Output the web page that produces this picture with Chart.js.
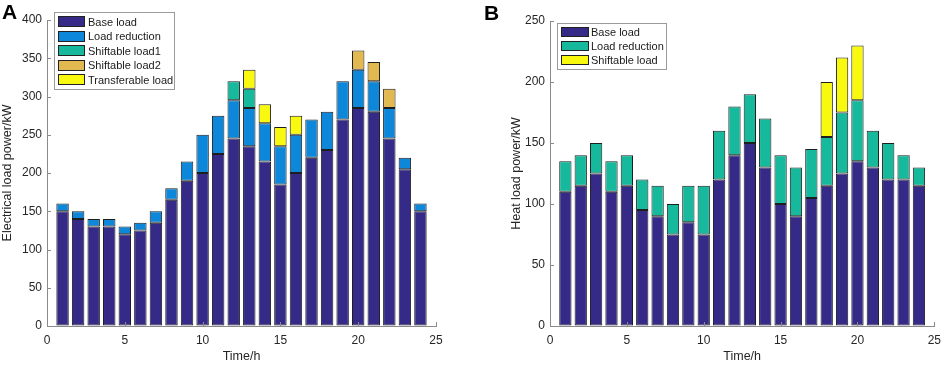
<!DOCTYPE html>
<html>
<head>
<meta charset="utf-8">
<script src="https://cdn.jsdelivr.net/npm/chart.js@4.4.1/dist/chart.umd.min.js"></script>
<style>
  html, body { margin: 0; padding: 0; background: #ffffff; }
  #wrap { position: relative; width: 948px; height: 365px; overflow: hidden; font-family: "Liberation Sans", Arial, sans-serif; }
  .panel { position: absolute; top: 0; width: 474px; height: 365px; }
  .letter { position: absolute; font-weight: bold; font-size: 21px; line-height: 21px; color: #000; }
  .legend { position: absolute; background: #fff; border: 1px solid #9a9a9a; box-sizing: border-box; }
  .lrow { position: absolute; left: 3px; height: 12px; white-space: nowrap; font-size: 11px; line-height: 12px; color: #1a1a1a; }
  .sw { position: absolute; left: 0; top: 0; box-sizing: border-box; border: 1px solid #222; }
  .lt { position: absolute; top: 0; }
</style>
</head>
<body>
<div id="wrap">
  <div class="panel" style="left:0"><canvas id="cA" width="474" height="365"></canvas></div>
  <div class="panel" style="left:474px"><canvas id="cB" width="474" height="365"></canvas></div>
  <div class="letter" style="left:2px;top:1px">A</div>
  <div class="letter" style="left:484px;top:2px">B</div>
  <div id="legA" class="legend" style="left:54px;top:12px;width:121px;height:78px"></div>
  <div id="legB" class="legend" style="left:557px;top:23px;width:110px;height:47px"></div>
</div>
<script>
// ---- data ----
const hours = [1,2,3,4,5,6,7,8,9,10,11,12,13,14,15,16,17,18,19,20,21,22,23,24];

// Panel A: electrical load (kW)
const elecNames = ["Base load", "Load reduction", "Shiftable load1", "Shiftable load2", "Transferable load"];
const elecBase = [150,140,130,130,120,125,135,165,190,200,225,245,235,215,185,200,220,230,270,285,280,245,205,150];
const elecReduction = [10,10,10,10,10,10,15,15,25,50,50,50,50,50,50,50,50,50,50,50,40,40,15,10];
const elecShift1 = [null,null,null,null,null,null,null,null,null,null,null,25,25,null,null,null,null,null,null,null,null,null,null,null];
const elecShift2 = [null,null,null,null,null,null,null,null,null,null,null,null,null,null,null,null,null,null,null,25,25,25,null,null];
const elecTransfer = [null,null,null,null,null,null,null,null,null,null,null,null,25,25,25,25,null,null,null,null,null,null,null,null];
const elecYTicks = [0,50,100,150,200,250,300,350,400];

// Panel B: heat load (kW)
const heatNames = ["Base load", "Load reduction", "Shiftable load"];
const heatBase = [110,115,125,110,115,95,90,75,85,75,120,140,150,130,100,90,105,115,125,135,130,120,120,115];
const heatReduction = [25,25,25,25,25,25,25,25,30,40,40,40,40,40,40,40,40,40,50,50,30,30,20,15];
const heatShift = [null,null,null,null,null,null,null,null,null,null,null,null,null,null,null,null,null,45,45,45,null,null,null,null];
const heatYTicks = [0,50,100,150,200,250];

const xTicks = [0,5,10,15,20,25];

// ---- styles ----
const C_BASE = "#352a87", C_BLUE = "#0d87da", C_TEAL = "#17b99c", C_ORANGE = "#e2b850", C_YELLOW = "#f8f90e";
const elecColors = [C_BASE, C_BLUE, C_TEAL, C_ORANGE, C_YELLOW];
const heatColors = [C_BASE, C_TEAL, C_YELLOW];
const FONT = "'Liberation Sans', Arial, sans-serif";
const TXT = "#262626";
const AXC = "#8a8a8a";

function mkDatasets(names, series, colors) {
  return names.map((n, i) => ({
    label: n,
    data: series[i],
    backgroundColor: colors[i],
    borderColor: "#1e1e1e",
    borderWidth: 1,
    borderSkipped: false,
    barPercentage: 0.8,
    categoryPercentage: 1.0
  }));
}

const inwardTicks = {
  id: "inwardTicks",
  afterDraw(chart) {
    const ctx = chart.ctx, x = chart.scales.x, y = chart.scales.y;
    const a = chart.chartArea;
    ctx.save();
    ctx.strokeStyle = AXC;
    ctx.lineWidth = 1;
    ctx.beginPath();
    y.ticks.forEach(t => { const p = Math.round(y.getPixelForValue(t.value)) + 0.5; ctx.moveTo(a.left, p); ctx.lineTo(a.left + 4, p); });
    x.ticks.forEach(t => { const p = Math.round(x.getPixelForValue(t.value)) + 0.5; ctx.moveTo(p, a.bottom); ctx.lineTo(p, a.bottom - 4); });
    ctx.stroke();
    ctx.restore();
  }
};

function mkChart(id, names, series, colors, yMax, yTicks, yTitle, pad, yWidth) {
  return new Chart(document.getElementById(id), {
    type: "bar",
    data: { labels: hours, datasets: mkDatasets(names, series, colors) },
    plugins: [inwardTicks],
    options: {
      responsive: false,
      animation: false,
      layout: { padding: pad },
      plugins: { legend: { display: false }, tooltip: { enabled: false } },
      scales: {
        x: {
          type: "linear", stacked: true, min: 0, max: 25, offset: false,
          grid: { display: true, drawOnChartArea: false, drawTicks: false, color: AXC },
          border: { display: true, color: AXC, width: 1 },
          ticks: { stepSize: 5, padding: 7, color: TXT, font: { family: FONT, size: 12 },
                   callback: v => xTicks.includes(v) ? String(v) : null },
          title: { display: true, text: "Time/h", color: TXT, font: { family: FONT, size: 12.5 }, padding: { top: 0, bottom: 1 } },
          afterFit: s => { s.height = 39; }
        },
        y: {
          stacked: true, min: 0, max: yMax,
          grid: { display: true, drawOnChartArea: false, drawTicks: false, color: AXC },
          border: { display: true, color: AXC, width: 1 },
          ticks: { stepSize: 50, padding: 5, color: TXT, font: { family: FONT, size: 12 },
                   callback: v => yTicks.includes(v) ? String(v) : null },
          title: { display: true, text: yTitle, color: TXT, font: { family: FONT, size: 12.5 }, padding: { top: 0, bottom: 0 } },
          afterFit: s => { s.width = yWidth; }
        }
      }
    }
  });
}

mkChart("cA", elecNames, [elecBase, elecReduction, elecShift1, elecShift2, elecTransfer], elecColors,
        400, elecYTicks, "Electrical load power/kW", { left: 0, right: 38, top: 20, bottom: 0 }, 47);
mkChart("cB", heatNames, [heatBase, heatReduction, heatShift], heatColors,
        250, heatYTicks, "Heat load power/kW", { left: 35, right: 10, top: 21, bottom: 0 }, 41);

function mkLegend(id, names, colors, firstTop, pitch, swW, swH, textX) {
  const el = document.getElementById(id);
  names.forEach((n, i) => {
    const row = document.createElement("div");
    row.className = "lrow";
    row.style.top = (firstTop + i * pitch) + "px";
    const sw = document.createElement("div");
    sw.className = "sw";
    sw.style.width = swW + "px"; sw.style.height = swH + "px";
    sw.style.background = colors[i];
    sw.style.top = ((12 - swH) / 2) + "px";
    const t = document.createElement("span");
    t.className = "lt";
    t.style.left = textX + "px";
    t.textContent = n;
    row.appendChild(sw); row.appendChild(t);
    el.appendChild(row);
  });
}
mkLegend("legA", elecNames, elecColors, 2.5, 14.6, 27, 11, 30);
mkLegend("legB", heatNames, heatColors, 2, 14, 28, 10, 30);
</script>
</body>
</html>
